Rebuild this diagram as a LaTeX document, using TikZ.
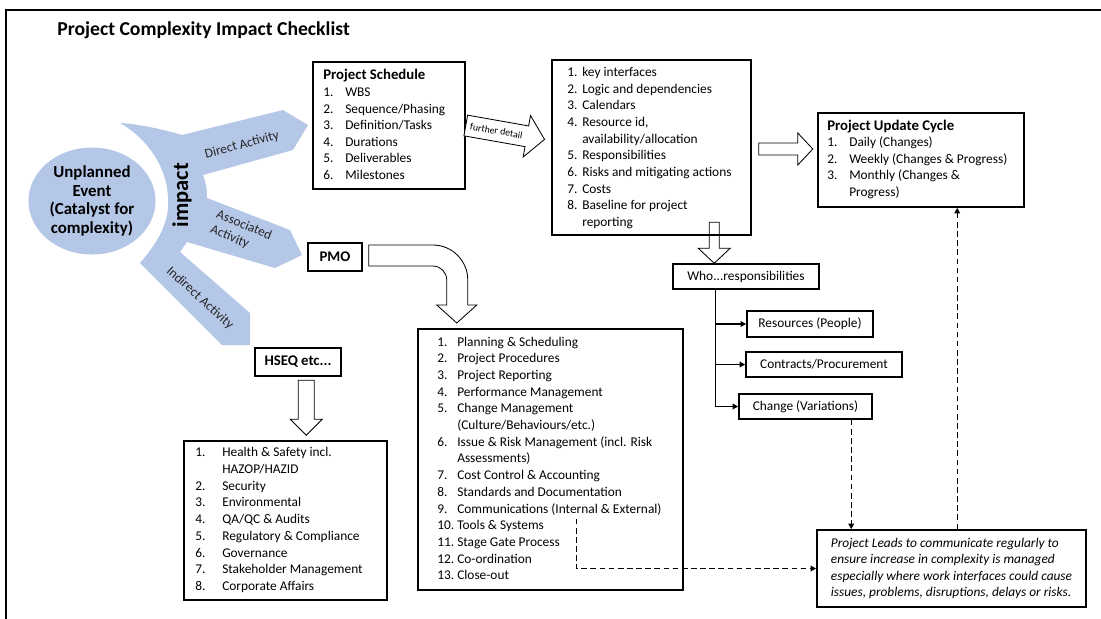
\documentclass[tikz,border=0pt]{standalone}
\usepackage{fontspec}
\setmainfont{Carlito}
\usetikzlibrary{arrows.meta,calc,fit,shapes.geometric}
\definecolor{fan}{HTML}{B4C7E7}
\newcommand\listfont{\fontsize{9.5}{11.6}\selectfont}
\newcommand\headfont{\fontsize{10.5}{12}\selectfont\bfseries}
\tikzset{
  box/.style={draw,line width=1.1pt,inner sep=0pt},
  wh/.style 2 args={minimum width=#1*0.025cm,minimum height=#2*0.025cm},
  item/.style={anchor=base west,inner sep=0pt,font=\listfont},
  head/.style={anchor=base west,inner sep=0pt,font=\headfont},
  blk/.style={draw,line width=0.6pt,fill=white,line join=miter},
  lead/.style={line width=1pt,dash pattern=on 4pt off 2.5pt,-{Triangle[length=4pt,width=4pt]}},
  branch/.style={line width=1pt,-{Triangle[length=4pt,width=4pt]}},
  tag/.style={font=\listfont,text=black!85}
}
\begin{document}
\begin{tikzpicture}[x=0.025cm,y=-0.025cm]
  \useasboundingbox (0,0) rectangle (1101,619);
  % frame and title
  \draw[line width=0.9pt] (6,619) -- (6,10) -- (1101,10);
  \node[anchor=base west,inner sep=0pt,font=\fontsize{14}{16}\selectfont\bfseries] (title) at (57,35) {Project Complexity Impact Checklist};

  % impact fan
  \fill[fan] (120,123) .. controls (140,124) and (165,130) .. (182,135)
    -- (283,110) -- (308,125) -- (293,150) -- (203,175)
    .. controls (206,182) and (207,190) .. (207,198)
    -- (290,230) -- (302,255) -- (275,268) -- (187,242)
    -- (180,252) -- (250,313) -- (250,345) -- (222,345) -- (140,263)
    .. controls (160,240) and (170,220) .. (168,197)
    .. controls (167,170) and (150,140) .. (120,123) -- cycle;
  \node[ellipse,fill=fan,inner sep=0pt,minimum width=3.175cm,minimum height=2.675cm,align=center,font=\fontsize{12}{13.2}\selectfont\bfseries] (event) at (92,201) {Unplanned\\Event\\(Catalyst for\\complexity)};
  \node[rotate=90,font=\fontsize{16}{18}\selectfont\bfseries] (impact) at (182,195) {impact};
  \node[tag,rotate=15,inner sep=1pt] (direct) at (242,145) {Direct Activity};
  \node[tag,rotate=-22,align=left,inner sep=1pt] (assoc) at (241,233) {Associated\\Activity};
  \node[tag,rotate=-42,inner sep=1pt] (indirect) at (200,298) {Indirect Activity};

  % project schedule
  \node[box,fit={(313,62)(465,189)}] (sched) {};
  \node[head] (schedhd) at (323,79) {Project Schedule};
  \foreach \n/\t [count=\k from 0] in {1./WBS,2./{Sequence/Phasing},3./{Definition/Tasks},4./Durations,5./Deliverables,6./Milestones}{
    \node[item] (sn\k) at (323,{96.5+16.5*\k}) {\n};
    \node[item] (st\k) at (345,{96.5+16.5*\k}) {\t};}

  % further detail
  \node[box,fit={(552,60)(751,235)}] (keys) {};
  \foreach \n/\t [count=\k from 0] in {1./key interfaces,2./Logic and dependencies,3./Calendars,4./{Resource id,},{}/{availability/allocation},5./Responsibilities,6./Risks and mitigating actions,7./Costs,8./Baseline for project,{}/reporting}{
    \node[item] (kn\k) at (567,{76.5+16.65*\k}) {\n};
    \node[item] (kt\k) at (582,{76.5+16.65*\k}) {\t};}

  % update cycle
  \node[box,fit={(818,113)(1024,207)}] (cycle) {};
  \node[head] (cyclehd) at (827,130) {Project Update Cycle};
  \foreach \n/\t [count=\k from 0] in {1./Daily (Changes),2./{Weekly (Changes \& Progress)},3./{Monthly (Changes \&},{}/{Progress)}}{
    \node[item] (cn\k) at (827,{146.5+16.7*\k}) {\n};
    \node[item] (ct\k) at (849,{146.5+16.7*\k}) {\t};}

  % pmo
  \node[box,wh={54}{28},font=\headfont] (pmo) at (335,257) {PMO};
  \node[box,fit={(418,329)(683,590)}] (pmolist) {};
  \foreach \n/\t [count=\k from 0] in {1./{Planning \& Scheduling},2./Project Procedures,3./Project Reporting,4./Performance Management,5./Change Management,{}/{(Culture/Behaviours/etc.)},6./{Issue \& Risk Management (incl. Risk},{}/{Assessments)},7./{Cost Control \& Accounting},8./Standards and Documentation,9./{Communications (Internal \& External)},10./{Tools \& Systems},11./Stage Gate Process,12./Co-ordination,13./Close-out}{
    \node[item] (pn\k) at (437,{346+16.7*\k}) {\n};
    \node[item] (pt\k) at (457,{346+16.7*\k}) {\t};}

  % hseq
  \node[box,wh={86}{28},font=\headfont] (hseq) at (298,362) {HSEQ etc...};
  \node[box,fit={(184,441)(387,600)}] (hseqlist) {};
  \foreach \n/\t [count=\k from 0] in {1./{Health \& Safety incl.},{}/{HAZOP/HAZID},2./Security,3./Environmental,4./{QA/QC \& Audits},5./{Regulatory \& Compliance},6./Governance,7./Stakeholder Management,8./Corporate Affairs}{
    \node[item] (hn\k) at (195,{456.5+16.75*\k}) {\n};
    \node[item] (ht\k) at (222,{456.5+16.75*\k}) {\t};}

  % responsibilities
  \node[box,wh={146}{25},font=\listfont] (who) at (746,276.5) {Who...responsibilities};
  \node[box,wh={126}{26},font=\listfont] (res) at (810,324) {Resources (People)};
  \node[box,wh={156}{25},font=\listfont] (con) at (824,364.5) {Contracts/Procurement};
  \node[box,wh={133}{25},font=\listfont] (chg) at (805.5,406.5) {Change (Variations)};
  \node[box,wh={269}{77},align=left,font=\fontsize{9.5}{11.6}\selectfont\itshape] (leads) at (951.5,568.5) {Project Leads to communicate regularly to\\ensure increase in complexity is managed\\especially where work interfaces could cause\\issues, problems, disruptions, delays or risks.};

  % block arrows
  \begin{scope}[shift={(sched.east)},rotate=-10]
    \draw[blk] (0,-10.5) -- (62,-10.5) -- (62,-21) -- (80,0) -- (62,21) -- (62,10.5) -- (0,10.5) -- cycle;
    \node[rotate=-10,font=\fontsize{7}{8}\selectfont] (further) at (31,0) {further detail};
  \end{scope}
  \draw[blk] ($(keys.east)+(7,-4.5)$) -- ++(39,0) -- ++(0,-10) -- ++(15,16) -- ++(-15,16) -- ++(0,-10) -- ++(-39,0) -- cycle;
  \draw[blk,fill=none] ($(who.north west)+(42,0)$) -- ++(-16,-15) -- ++(11,0) -- ++(0,-26) -- ++(10,0) -- ++(0,26) -- ++(11,0) -- cycle;
  \draw[blk] ($(pmo.east)+(6,-12)$) -- ++(64,0) arc[start angle=-90,end angle=0,radius=35] -- ++(0,25) -- ++(9,0) -- ++(-20,18) -- ++(-20,-18) -- ++(10,0) -- ++(0,-25) arc[start angle=0,end angle=-90,radius=14] -- ++(-64,0) -- cycle;
  \draw[blk] ($(hseqlist.north west)+(123,-5)$) -- ++(-16,-16) -- ++(8,0) -- ++(0,-39) -- ++(16,0) -- ++(0,39) -- ++(8,0) -- cycle;

  % tree and leads
  \coordinate (trunk) at ($(who.south west)+(43,0)$);
  \draw[line width=1pt] (trunk) -- (trunk |- chg.west);
  \foreach \b in {res,con,chg} \draw[branch] (trunk |- \b.west) -- (\b.west);
  \coordinate (chgdrop) at ($(chg.south west)+(113,0)$);
  \draw[lead] (chgdrop) -- (chgdrop |- leads.north);
  \coordinate (leadsup) at ($(leads.north west)+(141,0)$);
  \draw[lead] (leadsup) -- (leadsup |- cycle.south);
  \coordinate (commdrop) at ($(pmolist.south west)+(159,-72)$);
  \draw[lead] (commdrop) |- (leads.west);
\end{tikzpicture}
\end{document}
